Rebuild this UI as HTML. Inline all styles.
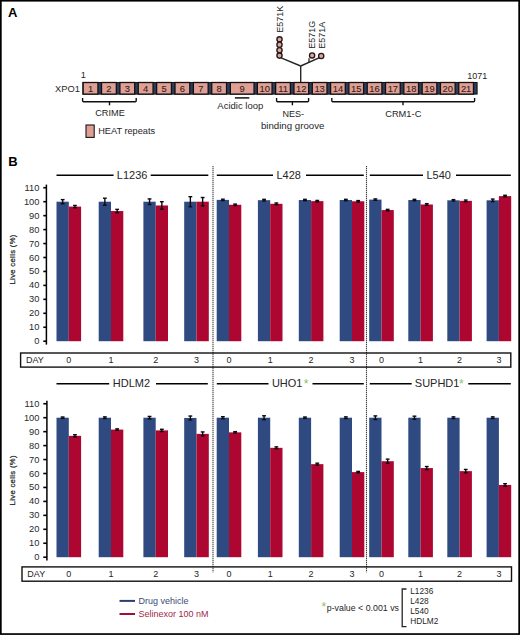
<!DOCTYPE html>
<html><head><meta charset="utf-8"><style>
html,body{margin:0;padding:0;background:#fff;}
body{width:520px;height:635px;overflow:hidden;font-family:"Liberation Sans", sans-serif;}
svg{display:block;font-family:"Liberation Sans", sans-serif;}
</style></head><body>
<svg width="520" height="635" viewBox="0 0 520 635">
<rect x="0" y="0" width="520" height="635" fill="#fff"/>
<text x="8.00" y="17.00" font-size="13" text-anchor="start" fill="#000" font-weight="bold" >A</text>
<text x="80.80" y="78.30" font-size="9.2" text-anchor="start" fill="#262626" font-weight="normal" >1</text>
<text x="467.20" y="78.50" font-size="9" text-anchor="start" fill="#262626" font-weight="normal" >1071</text>
<text x="55.00" y="92.20" font-size="9.3" text-anchor="start" fill="#262626" font-weight="normal" >XPO1</text>
<rect x="82.90" y="82.50" width="394.20" height="11.60" fill="#2e3c5c" stroke="#111" stroke-width="1" />
<rect x="83.15" y="82.50" width="14.80" height="11.60" fill="#dea095" stroke="#141012" stroke-width="1.3" />
<text x="90.55" y="91.80" font-size="9.4" text-anchor="middle" fill="#3a1c18" font-weight="normal" stroke="#3a1c18" stroke-width="0.1">1</text>
<rect x="101.52" y="82.50" width="14.80" height="11.60" fill="#dea095" stroke="#141012" stroke-width="1.3" />
<text x="108.92" y="91.80" font-size="9.4" text-anchor="middle" fill="#3a1c18" font-weight="normal" stroke="#3a1c18" stroke-width="0.1">2</text>
<rect x="119.89" y="82.50" width="14.80" height="11.60" fill="#dea095" stroke="#141012" stroke-width="1.3" />
<text x="127.29" y="91.80" font-size="9.4" text-anchor="middle" fill="#3a1c18" font-weight="normal" stroke="#3a1c18" stroke-width="0.1">3</text>
<rect x="138.26" y="82.50" width="14.80" height="11.60" fill="#dea095" stroke="#141012" stroke-width="1.3" />
<text x="145.66" y="91.80" font-size="9.4" text-anchor="middle" fill="#3a1c18" font-weight="normal" stroke="#3a1c18" stroke-width="0.1">4</text>
<rect x="156.63" y="82.50" width="14.80" height="11.60" fill="#dea095" stroke="#141012" stroke-width="1.3" />
<text x="164.03" y="91.80" font-size="9.4" text-anchor="middle" fill="#3a1c18" font-weight="normal" stroke="#3a1c18" stroke-width="0.1">5</text>
<rect x="175.00" y="82.50" width="14.80" height="11.60" fill="#dea095" stroke="#141012" stroke-width="1.3" />
<text x="182.40" y="91.80" font-size="9.4" text-anchor="middle" fill="#3a1c18" font-weight="normal" stroke="#3a1c18" stroke-width="0.1">6</text>
<rect x="193.37" y="82.50" width="14.80" height="11.60" fill="#dea095" stroke="#141012" stroke-width="1.3" />
<text x="200.77" y="91.80" font-size="9.4" text-anchor="middle" fill="#3a1c18" font-weight="normal" stroke="#3a1c18" stroke-width="0.1">7</text>
<rect x="211.74" y="82.50" width="14.80" height="11.60" fill="#dea095" stroke="#141012" stroke-width="1.3" />
<text x="219.14" y="91.80" font-size="9.4" text-anchor="middle" fill="#3a1c18" font-weight="normal" stroke="#3a1c18" stroke-width="0.1">8</text>
<rect x="230.35" y="82.50" width="23.70" height="11.60" fill="#dea095" stroke="#141012" stroke-width="1.3" />
<text x="242.20" y="91.80" font-size="9.4" text-anchor="middle" fill="#3a1c18" font-weight="normal" stroke="#3a1c18" stroke-width="0.1">9</text>
<rect x="257.35" y="82.50" width="14.70" height="11.60" fill="#dea095" stroke="#141012" stroke-width="1.3" />
<text x="264.70" y="91.80" font-size="9.4" text-anchor="middle" fill="#3a1c18" font-weight="normal" stroke="#3a1c18" stroke-width="0.1">10</text>
<rect x="275.66" y="82.50" width="14.70" height="11.60" fill="#dea095" stroke="#141012" stroke-width="1.3" />
<text x="283.01" y="91.80" font-size="9.4" text-anchor="middle" fill="#3a1c18" font-weight="normal" stroke="#3a1c18" stroke-width="0.1">11</text>
<rect x="293.97" y="82.50" width="14.70" height="11.60" fill="#dea095" stroke="#141012" stroke-width="1.3" />
<text x="301.32" y="91.80" font-size="9.4" text-anchor="middle" fill="#3a1c18" font-weight="normal" stroke="#3a1c18" stroke-width="0.1">12</text>
<rect x="312.28" y="82.50" width="14.70" height="11.60" fill="#dea095" stroke="#141012" stroke-width="1.3" />
<text x="319.63" y="91.80" font-size="9.4" text-anchor="middle" fill="#3a1c18" font-weight="normal" stroke="#3a1c18" stroke-width="0.1">13</text>
<rect x="330.59" y="82.50" width="14.70" height="11.60" fill="#dea095" stroke="#141012" stroke-width="1.3" />
<text x="337.94" y="91.80" font-size="9.4" text-anchor="middle" fill="#3a1c18" font-weight="normal" stroke="#3a1c18" stroke-width="0.1">14</text>
<rect x="348.90" y="82.50" width="14.70" height="11.60" fill="#dea095" stroke="#141012" stroke-width="1.3" />
<text x="356.25" y="91.80" font-size="9.4" text-anchor="middle" fill="#3a1c18" font-weight="normal" stroke="#3a1c18" stroke-width="0.1">15</text>
<rect x="367.21" y="82.50" width="14.70" height="11.60" fill="#dea095" stroke="#141012" stroke-width="1.3" />
<text x="374.56" y="91.80" font-size="9.4" text-anchor="middle" fill="#3a1c18" font-weight="normal" stroke="#3a1c18" stroke-width="0.1">16</text>
<rect x="385.52" y="82.50" width="14.70" height="11.60" fill="#dea095" stroke="#141012" stroke-width="1.3" />
<text x="392.87" y="91.80" font-size="9.4" text-anchor="middle" fill="#3a1c18" font-weight="normal" stroke="#3a1c18" stroke-width="0.1">17</text>
<rect x="403.83" y="82.50" width="14.70" height="11.60" fill="#dea095" stroke="#141012" stroke-width="1.3" />
<text x="411.18" y="91.80" font-size="9.4" text-anchor="middle" fill="#3a1c18" font-weight="normal" stroke="#3a1c18" stroke-width="0.1">18</text>
<rect x="422.14" y="82.50" width="14.70" height="11.60" fill="#dea095" stroke="#141012" stroke-width="1.3" />
<text x="429.49" y="91.80" font-size="9.4" text-anchor="middle" fill="#3a1c18" font-weight="normal" stroke="#3a1c18" stroke-width="0.1">19</text>
<rect x="440.45" y="82.50" width="14.70" height="11.60" fill="#dea095" stroke="#141012" stroke-width="1.3" />
<text x="447.80" y="91.80" font-size="9.4" text-anchor="middle" fill="#3a1c18" font-weight="normal" stroke="#3a1c18" stroke-width="0.1">20</text>
<rect x="458.76" y="82.50" width="14.70" height="11.60" fill="#dea095" stroke="#141012" stroke-width="1.3" />
<text x="466.11" y="91.80" font-size="9.4" text-anchor="middle" fill="#3a1c18" font-weight="normal" stroke="#3a1c18" stroke-width="0.1">21</text>
<line x1="300.70" y1="66.00" x2="300.70" y2="82.00" stroke="#262626" stroke-width="1.4" />
<line x1="300.70" y1="66.00" x2="280.50" y2="57.60" stroke="#262626" stroke-width="1.4" />
<line x1="300.70" y1="66.00" x2="321.20" y2="56.80" stroke="#262626" stroke-width="1.4" />
<line x1="309.00" y1="62.60" x2="309.00" y2="58.30" stroke="#262626" stroke-width="1.3" />
<circle cx="279.5" cy="39.3" r="2.6" fill="#d2aba3" stroke="#2a1616" stroke-width="1.35"/>
<circle cx="279.5" cy="44.75" r="2.6" fill="#d2aba3" stroke="#2a1616" stroke-width="1.35"/>
<circle cx="279.5" cy="50.2" r="2.6" fill="#d2aba3" stroke="#2a1616" stroke-width="1.35"/>
<circle cx="279.5" cy="55.6" r="2.6" fill="#d2aba3" stroke="#2a1616" stroke-width="1.35"/>
<circle cx="312.1" cy="55.4" r="2.6" fill="#d2aba3" stroke="#2a1616" stroke-width="1.35"/>
<circle cx="321.2" cy="56.0" r="2.6" fill="#d2aba3" stroke="#2a1616" stroke-width="1.35"/>
<text transform="translate(282.80,32.70) rotate(-90)" x="0" y="0" font-size="9" fill="#262626">E571K</text>
<text transform="translate(314.50,48.70) rotate(-90)" x="0" y="0" font-size="9" fill="#262626">E571G</text>
<text transform="translate(324.60,48.70) rotate(-90)" x="0" y="0" font-size="9" fill="#262626">E571A</text>
<path d="M82.60,98.0 L82.60,100.8 Q82.60,101.8 83.60,101.8 L135.20,101.8 Q136.20,101.8 136.20,100.8 L136.20,98.0" fill="none" stroke="#111" stroke-width="1.4"/>
<line x1="109.50" y1="101.80" x2="109.50" y2="105.30" stroke="#111" stroke-width="1.4" />
<path d="M276.60,98.0 L276.60,100.8 Q276.60,101.8 277.60,101.8 L307.60,101.8 Q308.60,101.8 308.60,100.8 L308.60,98.0" fill="none" stroke="#111" stroke-width="1.4"/>
<line x1="292.40" y1="101.80" x2="292.40" y2="105.30" stroke="#111" stroke-width="1.4" />
<path d="M331.80,98.0 L331.80,100.8 Q331.80,101.8 332.80,101.8 L473.60,101.8 Q474.60,101.8 474.60,100.8 L474.60,98.0" fill="none" stroke="#111" stroke-width="1.4"/>
<line x1="403.00" y1="101.80" x2="403.00" y2="105.30" stroke="#111" stroke-width="1.4" />
<line x1="234.90" y1="97.90" x2="249.30" y2="97.90" stroke="#111" stroke-width="1.5" />
<text x="95.20" y="115.50" font-size="9.2" text-anchor="start" fill="#262626" font-weight="normal" >CRIME</text>
<text x="217.30" y="109.40" font-size="9.5" text-anchor="start" fill="#262626" font-weight="normal" >Acidic loop</text>
<text x="282.50" y="116.60" font-size="9" text-anchor="start" fill="#262626" font-weight="normal" >NES-</text>
<text x="260.90" y="128.70" font-size="9.7" text-anchor="start" fill="#262626" font-weight="normal" >binding groove</text>
<text x="385.20" y="117.00" font-size="9.3" text-anchor="start" fill="#262626" font-weight="normal" >CRM1-C</text>
<rect x="86.00" y="125.00" width="8.20" height="12.40" fill="#dea095" stroke="#1a1416" stroke-width="1.1" />
<text x="98.20" y="134.40" font-size="9.2" text-anchor="start" fill="#262626" font-weight="normal" >HEAT repeats</text>
<text x="8.30" y="166.30" font-size="13" text-anchor="start" fill="#000" font-weight="bold" >B</text>
<line x1="46.40" y1="184.60" x2="46.40" y2="344.60" stroke="#000" stroke-width="1.5" />
<line x1="43.30" y1="341.20" x2="46.40" y2="341.20" stroke="#000" stroke-width="1.6" />
<text x="39.40" y="344.20" font-size="9.3" text-anchor="end" fill="#2a2a2a" font-weight="normal" >0</text>
<line x1="43.30" y1="327.25" x2="46.40" y2="327.25" stroke="#000" stroke-width="1.6" />
<text x="39.40" y="330.25" font-size="9.3" text-anchor="end" fill="#2a2a2a" font-weight="normal" >10</text>
<line x1="43.30" y1="313.30" x2="46.40" y2="313.30" stroke="#000" stroke-width="1.6" />
<text x="39.40" y="316.30" font-size="9.3" text-anchor="end" fill="#2a2a2a" font-weight="normal" >20</text>
<line x1="43.30" y1="299.35" x2="46.40" y2="299.35" stroke="#000" stroke-width="1.6" />
<text x="39.40" y="302.35" font-size="9.3" text-anchor="end" fill="#2a2a2a" font-weight="normal" >30</text>
<line x1="43.30" y1="285.40" x2="46.40" y2="285.40" stroke="#000" stroke-width="1.6" />
<text x="39.40" y="288.40" font-size="9.3" text-anchor="end" fill="#2a2a2a" font-weight="normal" >40</text>
<line x1="43.30" y1="271.45" x2="46.40" y2="271.45" stroke="#000" stroke-width="1.6" />
<text x="39.40" y="274.45" font-size="9.3" text-anchor="end" fill="#2a2a2a" font-weight="normal" >50</text>
<line x1="43.30" y1="257.50" x2="46.40" y2="257.50" stroke="#000" stroke-width="1.6" />
<text x="39.40" y="260.50" font-size="9.3" text-anchor="end" fill="#2a2a2a" font-weight="normal" >60</text>
<line x1="43.30" y1="243.55" x2="46.40" y2="243.55" stroke="#000" stroke-width="1.6" />
<text x="39.40" y="246.55" font-size="9.3" text-anchor="end" fill="#2a2a2a" font-weight="normal" >70</text>
<line x1="43.30" y1="229.60" x2="46.40" y2="229.60" stroke="#000" stroke-width="1.6" />
<text x="39.40" y="232.60" font-size="9.3" text-anchor="end" fill="#2a2a2a" font-weight="normal" >80</text>
<line x1="43.30" y1="215.65" x2="46.40" y2="215.65" stroke="#000" stroke-width="1.6" />
<text x="39.40" y="218.65" font-size="9.3" text-anchor="end" fill="#2a2a2a" font-weight="normal" >90</text>
<line x1="43.30" y1="201.70" x2="46.40" y2="201.70" stroke="#000" stroke-width="1.6" />
<text x="39.40" y="204.70" font-size="9.3" text-anchor="end" fill="#2a2a2a" font-weight="normal" >100</text>
<line x1="43.30" y1="187.75" x2="46.40" y2="187.75" stroke="#000" stroke-width="1.6" />
<text x="39.40" y="190.75" font-size="9.3" text-anchor="end" fill="#2a2a2a" font-weight="normal" >110</text>
<text transform="translate(15.00,259.40) rotate(-90)" x="0" y="0" font-size="7.7" letter-spacing="0.32" text-anchor="middle" fill="#262626" stroke="#262626" stroke-width="0.25">Live cells (%)</text>
<rect x="56.50" y="201.70" width="12.30" height="139.50" fill="#2f4a80" />
<rect x="68.80" y="206.58" width="12.30" height="134.62" fill="#ad0630" />
<line x1="62.65" y1="199.61" x2="62.65" y2="203.79" stroke="#0a0a14" stroke-width="1.4" />
<line x1="60.75" y1="199.61" x2="64.55" y2="199.61" stroke="#0a0a14" stroke-width="1.4" />
<line x1="60.75" y1="203.79" x2="64.55" y2="203.79" stroke="#0a0a14" stroke-width="1.4" />
<line x1="74.95" y1="205.47" x2="74.95" y2="207.70" stroke="#0a0a14" stroke-width="1.4" />
<line x1="73.05" y1="205.47" x2="76.85" y2="205.47" stroke="#0a0a14" stroke-width="1.4" />
<line x1="73.05" y1="207.70" x2="76.85" y2="207.70" stroke="#0a0a14" stroke-width="1.4" />
<rect x="98.70" y="201.70" width="12.30" height="139.50" fill="#2f4a80" />
<rect x="111.00" y="211.05" width="12.30" height="130.15" fill="#ad0630" />
<line x1="104.85" y1="198.21" x2="104.85" y2="205.19" stroke="#0a0a14" stroke-width="1.4" />
<line x1="102.95" y1="198.21" x2="106.75" y2="198.21" stroke="#0a0a14" stroke-width="1.4" />
<line x1="102.95" y1="205.19" x2="106.75" y2="205.19" stroke="#0a0a14" stroke-width="1.4" />
<line x1="117.15" y1="209.37" x2="117.15" y2="212.72" stroke="#0a0a14" stroke-width="1.4" />
<line x1="115.25" y1="209.37" x2="119.05" y2="209.37" stroke="#0a0a14" stroke-width="1.4" />
<line x1="115.25" y1="212.72" x2="119.05" y2="212.72" stroke="#0a0a14" stroke-width="1.4" />
<rect x="143.40" y="201.70" width="12.30" height="139.50" fill="#2f4a80" />
<rect x="155.70" y="205.47" width="12.30" height="135.73" fill="#ad0630" />
<line x1="149.55" y1="198.91" x2="149.55" y2="204.49" stroke="#0a0a14" stroke-width="1.4" />
<line x1="147.65" y1="198.91" x2="151.45" y2="198.91" stroke="#0a0a14" stroke-width="1.4" />
<line x1="147.65" y1="204.49" x2="151.45" y2="204.49" stroke="#0a0a14" stroke-width="1.4" />
<line x1="161.85" y1="201.70" x2="161.85" y2="209.23" stroke="#0a0a14" stroke-width="1.4" />
<line x1="159.95" y1="201.70" x2="163.75" y2="201.70" stroke="#0a0a14" stroke-width="1.4" />
<line x1="159.95" y1="209.23" x2="163.75" y2="209.23" stroke="#0a0a14" stroke-width="1.4" />
<rect x="184.20" y="201.70" width="12.30" height="139.50" fill="#2f4a80" />
<rect x="196.50" y="201.70" width="12.30" height="139.50" fill="#ad0630" />
<line x1="190.35" y1="196.68" x2="190.35" y2="206.72" stroke="#0a0a14" stroke-width="1.4" />
<line x1="188.45" y1="196.68" x2="192.25" y2="196.68" stroke="#0a0a14" stroke-width="1.4" />
<line x1="188.45" y1="206.72" x2="192.25" y2="206.72" stroke="#0a0a14" stroke-width="1.4" />
<line x1="202.65" y1="197.51" x2="202.65" y2="205.88" stroke="#0a0a14" stroke-width="1.4" />
<line x1="200.75" y1="197.51" x2="204.55" y2="197.51" stroke="#0a0a14" stroke-width="1.4" />
<line x1="200.75" y1="205.88" x2="204.55" y2="205.88" stroke="#0a0a14" stroke-width="1.4" />
<rect x="216.70" y="199.89" width="12.30" height="141.31" fill="#2f4a80" />
<rect x="229.00" y="204.77" width="12.30" height="136.43" fill="#ad0630" />
<line x1="222.85" y1="199.19" x2="222.85" y2="200.58" stroke="#0a0a14" stroke-width="1.4" />
<line x1="220.95" y1="199.19" x2="224.75" y2="199.19" stroke="#0a0a14" stroke-width="1.4" />
<line x1="220.95" y1="200.58" x2="224.75" y2="200.58" stroke="#0a0a14" stroke-width="1.4" />
<line x1="235.15" y1="204.07" x2="235.15" y2="205.47" stroke="#0a0a14" stroke-width="1.4" />
<line x1="233.25" y1="204.07" x2="237.05" y2="204.07" stroke="#0a0a14" stroke-width="1.4" />
<line x1="233.25" y1="205.47" x2="237.05" y2="205.47" stroke="#0a0a14" stroke-width="1.4" />
<rect x="257.90" y="200.17" width="12.30" height="141.03" fill="#2f4a80" />
<rect x="270.20" y="203.79" width="12.30" height="137.41" fill="#ad0630" />
<line x1="264.05" y1="199.33" x2="264.05" y2="201.00" stroke="#0a0a14" stroke-width="1.4" />
<line x1="262.15" y1="199.33" x2="265.95" y2="199.33" stroke="#0a0a14" stroke-width="1.4" />
<line x1="262.15" y1="201.00" x2="265.95" y2="201.00" stroke="#0a0a14" stroke-width="1.4" />
<line x1="276.35" y1="202.96" x2="276.35" y2="204.63" stroke="#0a0a14" stroke-width="1.4" />
<line x1="274.45" y1="202.96" x2="278.25" y2="202.96" stroke="#0a0a14" stroke-width="1.4" />
<line x1="274.45" y1="204.63" x2="278.25" y2="204.63" stroke="#0a0a14" stroke-width="1.4" />
<rect x="298.80" y="200.03" width="12.30" height="141.17" fill="#2f4a80" />
<rect x="311.10" y="201.14" width="12.30" height="140.06" fill="#ad0630" />
<line x1="304.95" y1="199.33" x2="304.95" y2="200.72" stroke="#0a0a14" stroke-width="1.4" />
<line x1="303.05" y1="199.33" x2="306.85" y2="199.33" stroke="#0a0a14" stroke-width="1.4" />
<line x1="303.05" y1="200.72" x2="306.85" y2="200.72" stroke="#0a0a14" stroke-width="1.4" />
<line x1="317.25" y1="200.44" x2="317.25" y2="201.84" stroke="#0a0a14" stroke-width="1.4" />
<line x1="315.35" y1="200.44" x2="319.15" y2="200.44" stroke="#0a0a14" stroke-width="1.4" />
<line x1="315.35" y1="201.84" x2="319.15" y2="201.84" stroke="#0a0a14" stroke-width="1.4" />
<rect x="339.70" y="200.03" width="12.30" height="141.17" fill="#2f4a80" />
<rect x="352.00" y="201.28" width="12.30" height="139.92" fill="#ad0630" />
<line x1="345.85" y1="199.33" x2="345.85" y2="200.72" stroke="#0a0a14" stroke-width="1.4" />
<line x1="343.95" y1="199.33" x2="347.75" y2="199.33" stroke="#0a0a14" stroke-width="1.4" />
<line x1="343.95" y1="200.72" x2="347.75" y2="200.72" stroke="#0a0a14" stroke-width="1.4" />
<line x1="358.15" y1="200.58" x2="358.15" y2="201.98" stroke="#0a0a14" stroke-width="1.4" />
<line x1="356.25" y1="200.58" x2="360.05" y2="200.58" stroke="#0a0a14" stroke-width="1.4" />
<line x1="356.25" y1="201.98" x2="360.05" y2="201.98" stroke="#0a0a14" stroke-width="1.4" />
<rect x="369.20" y="199.61" width="12.30" height="141.59" fill="#2f4a80" />
<rect x="381.50" y="210.07" width="12.30" height="131.13" fill="#ad0630" />
<line x1="375.35" y1="198.91" x2="375.35" y2="200.30" stroke="#0a0a14" stroke-width="1.4" />
<line x1="373.45" y1="198.91" x2="377.25" y2="198.91" stroke="#0a0a14" stroke-width="1.4" />
<line x1="373.45" y1="200.30" x2="377.25" y2="200.30" stroke="#0a0a14" stroke-width="1.4" />
<line x1="387.65" y1="209.37" x2="387.65" y2="210.77" stroke="#0a0a14" stroke-width="1.4" />
<line x1="385.75" y1="209.37" x2="389.55" y2="209.37" stroke="#0a0a14" stroke-width="1.4" />
<line x1="385.75" y1="210.77" x2="389.55" y2="210.77" stroke="#0a0a14" stroke-width="1.4" />
<rect x="408.30" y="200.03" width="12.30" height="141.17" fill="#2f4a80" />
<rect x="420.60" y="204.49" width="12.30" height="136.71" fill="#ad0630" />
<line x1="414.45" y1="199.33" x2="414.45" y2="200.72" stroke="#0a0a14" stroke-width="1.4" />
<line x1="412.55" y1="199.33" x2="416.35" y2="199.33" stroke="#0a0a14" stroke-width="1.4" />
<line x1="412.55" y1="200.72" x2="416.35" y2="200.72" stroke="#0a0a14" stroke-width="1.4" />
<line x1="426.75" y1="203.65" x2="426.75" y2="205.33" stroke="#0a0a14" stroke-width="1.4" />
<line x1="424.85" y1="203.65" x2="428.65" y2="203.65" stroke="#0a0a14" stroke-width="1.4" />
<line x1="424.85" y1="205.33" x2="428.65" y2="205.33" stroke="#0a0a14" stroke-width="1.4" />
<rect x="447.30" y="200.30" width="12.30" height="140.90" fill="#2f4a80" />
<rect x="459.60" y="200.86" width="12.30" height="140.34" fill="#ad0630" />
<line x1="453.45" y1="199.61" x2="453.45" y2="201.00" stroke="#0a0a14" stroke-width="1.4" />
<line x1="451.55" y1="199.61" x2="455.35" y2="199.61" stroke="#0a0a14" stroke-width="1.4" />
<line x1="451.55" y1="201.00" x2="455.35" y2="201.00" stroke="#0a0a14" stroke-width="1.4" />
<line x1="465.75" y1="200.03" x2="465.75" y2="201.70" stroke="#0a0a14" stroke-width="1.4" />
<line x1="463.85" y1="200.03" x2="467.65" y2="200.03" stroke="#0a0a14" stroke-width="1.4" />
<line x1="463.85" y1="201.70" x2="467.65" y2="201.70" stroke="#0a0a14" stroke-width="1.4" />
<rect x="486.60" y="200.30" width="12.30" height="140.90" fill="#2f4a80" />
<rect x="498.90" y="196.12" width="12.30" height="145.08" fill="#ad0630" />
<line x1="492.75" y1="199.05" x2="492.75" y2="201.56" stroke="#0a0a14" stroke-width="1.4" />
<line x1="490.85" y1="199.05" x2="494.65" y2="199.05" stroke="#0a0a14" stroke-width="1.4" />
<line x1="490.85" y1="201.56" x2="494.65" y2="201.56" stroke="#0a0a14" stroke-width="1.4" />
<line x1="505.05" y1="195.28" x2="505.05" y2="196.96" stroke="#0a0a14" stroke-width="1.4" />
<line x1="503.15" y1="195.28" x2="506.95" y2="195.28" stroke="#0a0a14" stroke-width="1.4" />
<line x1="503.15" y1="196.96" x2="506.95" y2="196.96" stroke="#0a0a14" stroke-width="1.4" />
<line x1="56.50" y1="175.25" x2="113.60" y2="175.25" stroke="#000" stroke-width="1.5" />
<line x1="150.70" y1="175.25" x2="208.30" y2="175.25" stroke="#000" stroke-width="1.5" />
<text x="116.80" y="178.75" font-size="11" text-anchor="start" fill="#262626" font-weight="normal" >L1236</text>
<line x1="216.80" y1="175.25" x2="273.00" y2="175.25" stroke="#000" stroke-width="1.5" />
<line x1="306.00" y1="175.25" x2="363.80" y2="175.25" stroke="#000" stroke-width="1.5" />
<text x="276.40" y="178.75" font-size="11" text-anchor="start" fill="#262626" font-weight="normal" >L428</text>
<line x1="369.80" y1="175.25" x2="423.00" y2="175.25" stroke="#000" stroke-width="1.5" />
<line x1="456.00" y1="175.25" x2="510.80" y2="175.25" stroke="#000" stroke-width="1.5" />
<text x="426.40" y="178.75" font-size="11" text-anchor="start" fill="#262626" font-weight="normal" >L540</text>
<rect x="20.60" y="353.00" width="490.20" height="14.10" fill="none" stroke="#111" stroke-width="1.4" />
<text x="25.90" y="362.70" font-size="9" text-anchor="start" fill="#262626" font-weight="normal" >DAY</text>
<text x="68.80" y="362.70" font-size="9" text-anchor="middle" fill="#262626" font-weight="normal" >0</text>
<text x="111.00" y="362.70" font-size="9" text-anchor="middle" fill="#262626" font-weight="normal" >1</text>
<text x="155.70" y="362.70" font-size="9" text-anchor="middle" fill="#262626" font-weight="normal" >2</text>
<text x="196.50" y="362.70" font-size="9" text-anchor="middle" fill="#262626" font-weight="normal" >3</text>
<text x="229.00" y="362.70" font-size="9" text-anchor="middle" fill="#262626" font-weight="normal" >0</text>
<text x="270.20" y="362.70" font-size="9" text-anchor="middle" fill="#262626" font-weight="normal" >1</text>
<text x="311.10" y="362.70" font-size="9" text-anchor="middle" fill="#262626" font-weight="normal" >2</text>
<text x="352.00" y="362.70" font-size="9" text-anchor="middle" fill="#262626" font-weight="normal" >3</text>
<text x="381.50" y="362.70" font-size="9" text-anchor="middle" fill="#262626" font-weight="normal" >0</text>
<text x="420.60" y="362.70" font-size="9" text-anchor="middle" fill="#262626" font-weight="normal" >1</text>
<text x="459.60" y="362.70" font-size="9" text-anchor="middle" fill="#262626" font-weight="normal" >2</text>
<text x="498.90" y="362.70" font-size="9" text-anchor="middle" fill="#262626" font-weight="normal" >3</text>
<line x1="46.90" y1="400.80" x2="46.90" y2="560.50" stroke="#000" stroke-width="1.5" />
<line x1="43.30" y1="557.20" x2="46.90" y2="557.20" stroke="#000" stroke-width="1.6" />
<text x="39.40" y="560.20" font-size="9.3" text-anchor="end" fill="#2a2a2a" font-weight="normal" >0</text>
<line x1="43.30" y1="543.25" x2="46.90" y2="543.25" stroke="#000" stroke-width="1.6" />
<text x="39.40" y="546.25" font-size="9.3" text-anchor="end" fill="#2a2a2a" font-weight="normal" >10</text>
<line x1="43.30" y1="529.30" x2="46.90" y2="529.30" stroke="#000" stroke-width="1.6" />
<text x="39.40" y="532.30" font-size="9.3" text-anchor="end" fill="#2a2a2a" font-weight="normal" >20</text>
<line x1="43.30" y1="515.35" x2="46.90" y2="515.35" stroke="#000" stroke-width="1.6" />
<text x="39.40" y="518.35" font-size="9.3" text-anchor="end" fill="#2a2a2a" font-weight="normal" >30</text>
<line x1="43.30" y1="501.40" x2="46.90" y2="501.40" stroke="#000" stroke-width="1.6" />
<text x="39.40" y="504.40" font-size="9.3" text-anchor="end" fill="#2a2a2a" font-weight="normal" >40</text>
<line x1="43.30" y1="487.45" x2="46.90" y2="487.45" stroke="#000" stroke-width="1.6" />
<text x="39.40" y="490.45" font-size="9.3" text-anchor="end" fill="#2a2a2a" font-weight="normal" >50</text>
<line x1="43.30" y1="473.50" x2="46.90" y2="473.50" stroke="#000" stroke-width="1.6" />
<text x="39.40" y="476.50" font-size="9.3" text-anchor="end" fill="#2a2a2a" font-weight="normal" >60</text>
<line x1="43.30" y1="459.55" x2="46.90" y2="459.55" stroke="#000" stroke-width="1.6" />
<text x="39.40" y="462.55" font-size="9.3" text-anchor="end" fill="#2a2a2a" font-weight="normal" >70</text>
<line x1="43.30" y1="445.60" x2="46.90" y2="445.60" stroke="#000" stroke-width="1.6" />
<text x="39.40" y="448.60" font-size="9.3" text-anchor="end" fill="#2a2a2a" font-weight="normal" >80</text>
<line x1="43.30" y1="431.65" x2="46.90" y2="431.65" stroke="#000" stroke-width="1.6" />
<text x="39.40" y="434.65" font-size="9.3" text-anchor="end" fill="#2a2a2a" font-weight="normal" >90</text>
<line x1="43.30" y1="417.70" x2="46.90" y2="417.70" stroke="#000" stroke-width="1.6" />
<text x="39.40" y="420.70" font-size="9.3" text-anchor="end" fill="#2a2a2a" font-weight="normal" >100</text>
<line x1="43.30" y1="403.75" x2="46.90" y2="403.75" stroke="#000" stroke-width="1.6" />
<text x="39.40" y="406.75" font-size="9.3" text-anchor="end" fill="#2a2a2a" font-weight="normal" >110</text>
<text transform="translate(15.00,480.30) rotate(-90)" x="0" y="0" font-size="7.7" letter-spacing="0.32" text-anchor="middle" fill="#262626" stroke="#262626" stroke-width="0.25">Live cells (%)</text>
<rect x="56.50" y="417.70" width="12.30" height="139.50" fill="#2f4a80" />
<rect x="68.80" y="435.84" width="12.30" height="121.37" fill="#ad0630" />
<line x1="62.65" y1="417.00" x2="62.65" y2="418.40" stroke="#0a0a14" stroke-width="1.4" />
<line x1="60.75" y1="417.00" x2="64.55" y2="417.00" stroke="#0a0a14" stroke-width="1.4" />
<line x1="60.75" y1="418.40" x2="64.55" y2="418.40" stroke="#0a0a14" stroke-width="1.4" />
<line x1="74.95" y1="434.72" x2="74.95" y2="436.95" stroke="#0a0a14" stroke-width="1.4" />
<line x1="73.05" y1="434.72" x2="76.85" y2="434.72" stroke="#0a0a14" stroke-width="1.4" />
<line x1="73.05" y1="436.95" x2="76.85" y2="436.95" stroke="#0a0a14" stroke-width="1.4" />
<rect x="98.70" y="417.70" width="12.30" height="139.50" fill="#2f4a80" />
<rect x="111.00" y="429.56" width="12.30" height="127.64" fill="#ad0630" />
<line x1="104.85" y1="416.86" x2="104.85" y2="418.54" stroke="#0a0a14" stroke-width="1.4" />
<line x1="102.95" y1="416.86" x2="106.75" y2="416.86" stroke="#0a0a14" stroke-width="1.4" />
<line x1="102.95" y1="418.54" x2="106.75" y2="418.54" stroke="#0a0a14" stroke-width="1.4" />
<line x1="117.15" y1="428.86" x2="117.15" y2="430.26" stroke="#0a0a14" stroke-width="1.4" />
<line x1="115.25" y1="428.86" x2="119.05" y2="428.86" stroke="#0a0a14" stroke-width="1.4" />
<line x1="115.25" y1="430.26" x2="119.05" y2="430.26" stroke="#0a0a14" stroke-width="1.4" />
<rect x="143.40" y="417.70" width="12.30" height="139.50" fill="#2f4a80" />
<rect x="155.70" y="430.39" width="12.30" height="126.81" fill="#ad0630" />
<line x1="149.55" y1="416.44" x2="149.55" y2="418.96" stroke="#0a0a14" stroke-width="1.4" />
<line x1="147.65" y1="416.44" x2="151.45" y2="416.44" stroke="#0a0a14" stroke-width="1.4" />
<line x1="147.65" y1="418.96" x2="151.45" y2="418.96" stroke="#0a0a14" stroke-width="1.4" />
<line x1="161.85" y1="429.28" x2="161.85" y2="431.51" stroke="#0a0a14" stroke-width="1.4" />
<line x1="159.95" y1="429.28" x2="163.75" y2="429.28" stroke="#0a0a14" stroke-width="1.4" />
<line x1="159.95" y1="431.51" x2="163.75" y2="431.51" stroke="#0a0a14" stroke-width="1.4" />
<rect x="184.20" y="417.98" width="12.30" height="139.22" fill="#2f4a80" />
<rect x="196.50" y="433.88" width="12.30" height="123.32" fill="#ad0630" />
<line x1="190.35" y1="416.03" x2="190.35" y2="419.93" stroke="#0a0a14" stroke-width="1.4" />
<line x1="188.45" y1="416.03" x2="192.25" y2="416.03" stroke="#0a0a14" stroke-width="1.4" />
<line x1="188.45" y1="419.93" x2="192.25" y2="419.93" stroke="#0a0a14" stroke-width="1.4" />
<line x1="202.65" y1="431.93" x2="202.65" y2="435.84" stroke="#0a0a14" stroke-width="1.4" />
<line x1="200.75" y1="431.93" x2="204.55" y2="431.93" stroke="#0a0a14" stroke-width="1.4" />
<line x1="200.75" y1="435.84" x2="204.55" y2="435.84" stroke="#0a0a14" stroke-width="1.4" />
<rect x="216.70" y="417.70" width="12.30" height="139.50" fill="#2f4a80" />
<rect x="229.00" y="432.35" width="12.30" height="124.85" fill="#ad0630" />
<line x1="222.85" y1="416.72" x2="222.85" y2="418.68" stroke="#0a0a14" stroke-width="1.4" />
<line x1="220.95" y1="416.72" x2="224.75" y2="416.72" stroke="#0a0a14" stroke-width="1.4" />
<line x1="220.95" y1="418.68" x2="224.75" y2="418.68" stroke="#0a0a14" stroke-width="1.4" />
<line x1="235.15" y1="431.65" x2="235.15" y2="433.05" stroke="#0a0a14" stroke-width="1.4" />
<line x1="233.25" y1="431.65" x2="237.05" y2="431.65" stroke="#0a0a14" stroke-width="1.4" />
<line x1="233.25" y1="433.05" x2="237.05" y2="433.05" stroke="#0a0a14" stroke-width="1.4" />
<rect x="257.90" y="417.70" width="12.30" height="139.50" fill="#2f4a80" />
<rect x="270.20" y="447.83" width="12.30" height="109.37" fill="#ad0630" />
<line x1="264.05" y1="415.75" x2="264.05" y2="419.65" stroke="#0a0a14" stroke-width="1.4" />
<line x1="262.15" y1="415.75" x2="265.95" y2="415.75" stroke="#0a0a14" stroke-width="1.4" />
<line x1="262.15" y1="419.65" x2="265.95" y2="419.65" stroke="#0a0a14" stroke-width="1.4" />
<line x1="276.35" y1="446.86" x2="276.35" y2="448.81" stroke="#0a0a14" stroke-width="1.4" />
<line x1="274.45" y1="446.86" x2="278.25" y2="446.86" stroke="#0a0a14" stroke-width="1.4" />
<line x1="274.45" y1="448.81" x2="278.25" y2="448.81" stroke="#0a0a14" stroke-width="1.4" />
<rect x="298.80" y="417.70" width="12.30" height="139.50" fill="#2f4a80" />
<rect x="311.10" y="464.15" width="12.30" height="93.05" fill="#ad0630" />
<line x1="304.95" y1="417.00" x2="304.95" y2="418.40" stroke="#0a0a14" stroke-width="1.4" />
<line x1="303.05" y1="417.00" x2="306.85" y2="417.00" stroke="#0a0a14" stroke-width="1.4" />
<line x1="303.05" y1="418.40" x2="306.85" y2="418.40" stroke="#0a0a14" stroke-width="1.4" />
<line x1="317.25" y1="463.18" x2="317.25" y2="465.13" stroke="#0a0a14" stroke-width="1.4" />
<line x1="315.35" y1="463.18" x2="319.15" y2="463.18" stroke="#0a0a14" stroke-width="1.4" />
<line x1="315.35" y1="465.13" x2="319.15" y2="465.13" stroke="#0a0a14" stroke-width="1.4" />
<rect x="339.70" y="417.70" width="12.30" height="139.50" fill="#2f4a80" />
<rect x="352.00" y="472.11" width="12.30" height="85.10" fill="#ad0630" />
<line x1="345.85" y1="416.86" x2="345.85" y2="418.54" stroke="#0a0a14" stroke-width="1.4" />
<line x1="343.95" y1="416.86" x2="347.75" y2="416.86" stroke="#0a0a14" stroke-width="1.4" />
<line x1="343.95" y1="418.54" x2="347.75" y2="418.54" stroke="#0a0a14" stroke-width="1.4" />
<line x1="358.15" y1="471.41" x2="358.15" y2="472.80" stroke="#0a0a14" stroke-width="1.4" />
<line x1="356.25" y1="471.41" x2="360.05" y2="471.41" stroke="#0a0a14" stroke-width="1.4" />
<line x1="356.25" y1="472.80" x2="360.05" y2="472.80" stroke="#0a0a14" stroke-width="1.4" />
<rect x="369.20" y="417.70" width="12.30" height="139.50" fill="#2f4a80" />
<rect x="381.50" y="461.22" width="12.30" height="95.98" fill="#ad0630" />
<line x1="375.35" y1="415.89" x2="375.35" y2="419.51" stroke="#0a0a14" stroke-width="1.4" />
<line x1="373.45" y1="415.89" x2="377.25" y2="415.89" stroke="#0a0a14" stroke-width="1.4" />
<line x1="373.45" y1="419.51" x2="377.25" y2="419.51" stroke="#0a0a14" stroke-width="1.4" />
<line x1="387.65" y1="459.13" x2="387.65" y2="463.32" stroke="#0a0a14" stroke-width="1.4" />
<line x1="385.75" y1="459.13" x2="389.55" y2="459.13" stroke="#0a0a14" stroke-width="1.4" />
<line x1="385.75" y1="463.32" x2="389.55" y2="463.32" stroke="#0a0a14" stroke-width="1.4" />
<rect x="408.30" y="417.70" width="12.30" height="139.50" fill="#2f4a80" />
<rect x="420.60" y="468.06" width="12.30" height="89.14" fill="#ad0630" />
<line x1="414.45" y1="416.17" x2="414.45" y2="419.23" stroke="#0a0a14" stroke-width="1.4" />
<line x1="412.55" y1="416.17" x2="416.35" y2="416.17" stroke="#0a0a14" stroke-width="1.4" />
<line x1="412.55" y1="419.23" x2="416.35" y2="419.23" stroke="#0a0a14" stroke-width="1.4" />
<line x1="426.75" y1="466.53" x2="426.75" y2="469.59" stroke="#0a0a14" stroke-width="1.4" />
<line x1="424.85" y1="466.53" x2="428.65" y2="466.53" stroke="#0a0a14" stroke-width="1.4" />
<line x1="424.85" y1="469.59" x2="428.65" y2="469.59" stroke="#0a0a14" stroke-width="1.4" />
<rect x="447.30" y="417.70" width="12.30" height="139.50" fill="#2f4a80" />
<rect x="459.60" y="471.13" width="12.30" height="86.07" fill="#ad0630" />
<line x1="453.45" y1="416.86" x2="453.45" y2="418.54" stroke="#0a0a14" stroke-width="1.4" />
<line x1="451.55" y1="416.86" x2="455.35" y2="416.86" stroke="#0a0a14" stroke-width="1.4" />
<line x1="451.55" y1="418.54" x2="455.35" y2="418.54" stroke="#0a0a14" stroke-width="1.4" />
<line x1="465.75" y1="469.45" x2="465.75" y2="472.80" stroke="#0a0a14" stroke-width="1.4" />
<line x1="463.85" y1="469.45" x2="467.65" y2="469.45" stroke="#0a0a14" stroke-width="1.4" />
<line x1="463.85" y1="472.80" x2="467.65" y2="472.80" stroke="#0a0a14" stroke-width="1.4" />
<rect x="486.60" y="417.70" width="12.30" height="139.50" fill="#2f4a80" />
<rect x="498.90" y="484.94" width="12.30" height="72.26" fill="#ad0630" />
<line x1="492.75" y1="416.86" x2="492.75" y2="418.54" stroke="#0a0a14" stroke-width="1.4" />
<line x1="490.85" y1="416.86" x2="494.65" y2="416.86" stroke="#0a0a14" stroke-width="1.4" />
<line x1="490.85" y1="418.54" x2="494.65" y2="418.54" stroke="#0a0a14" stroke-width="1.4" />
<line x1="505.05" y1="483.68" x2="505.05" y2="486.19" stroke="#0a0a14" stroke-width="1.4" />
<line x1="503.15" y1="483.68" x2="506.95" y2="483.68" stroke="#0a0a14" stroke-width="1.4" />
<line x1="503.15" y1="486.19" x2="506.95" y2="486.19" stroke="#0a0a14" stroke-width="1.4" />
<line x1="56.50" y1="383.65" x2="109.20" y2="383.65" stroke="#000" stroke-width="1.5" />
<line x1="156.00" y1="383.65" x2="207.80" y2="383.65" stroke="#000" stroke-width="1.5" />
<text x="112.80" y="387.15" font-size="11" text-anchor="start" fill="#262626" font-weight="normal" >HDLM2</text>
<line x1="216.80" y1="383.65" x2="268.50" y2="383.65" stroke="#000" stroke-width="1.5" />
<line x1="312.50" y1="383.65" x2="363.80" y2="383.65" stroke="#000" stroke-width="1.5" />
<text x="271.90" y="387.15" font-size="11" text-anchor="start" fill="#262626" font-weight="normal" >UHO1</text>
<text x="303.70" y="388.25" font-size="12" text-anchor="start" fill="#8cc060" font-weight="normal" >*</text>
<line x1="369.80" y1="383.65" x2="411.70" y2="383.65" stroke="#000" stroke-width="1.5" />
<line x1="468.30" y1="383.65" x2="510.80" y2="383.65" stroke="#000" stroke-width="1.5" />
<text x="414.80" y="387.15" font-size="11" text-anchor="start" fill="#262626" font-weight="normal" >SUPHD1</text>
<text x="459.10" y="388.25" font-size="12" text-anchor="start" fill="#8cc060" font-weight="normal" >*</text>
<rect x="22.00" y="566.90" width="489.50" height="14.30" fill="none" stroke="#111" stroke-width="1.4" />
<text x="27.30" y="576.80" font-size="9" text-anchor="start" fill="#262626" font-weight="normal" >DAY</text>
<text x="68.80" y="576.80" font-size="9" text-anchor="middle" fill="#262626" font-weight="normal" >0</text>
<text x="111.00" y="576.80" font-size="9" text-anchor="middle" fill="#262626" font-weight="normal" >1</text>
<text x="155.70" y="576.80" font-size="9" text-anchor="middle" fill="#262626" font-weight="normal" >2</text>
<text x="196.50" y="576.80" font-size="9" text-anchor="middle" fill="#262626" font-weight="normal" >3</text>
<text x="229.00" y="576.80" font-size="9" text-anchor="middle" fill="#262626" font-weight="normal" >0</text>
<text x="270.20" y="576.80" font-size="9" text-anchor="middle" fill="#262626" font-weight="normal" >1</text>
<text x="311.10" y="576.80" font-size="9" text-anchor="middle" fill="#262626" font-weight="normal" >2</text>
<text x="352.00" y="576.80" font-size="9" text-anchor="middle" fill="#262626" font-weight="normal" >3</text>
<text x="381.50" y="576.80" font-size="9" text-anchor="middle" fill="#262626" font-weight="normal" >0</text>
<text x="420.60" y="576.80" font-size="9" text-anchor="middle" fill="#262626" font-weight="normal" >1</text>
<text x="459.60" y="576.80" font-size="9" text-anchor="middle" fill="#262626" font-weight="normal" >2</text>
<text x="498.90" y="576.80" font-size="9" text-anchor="middle" fill="#262626" font-weight="normal" >3</text>
<line x1="213.00" y1="166.20" x2="213.00" y2="572.60" stroke="#000" stroke-width="1.1" stroke-dasharray="1 1"/>
<line x1="366.50" y1="166.20" x2="366.50" y2="572.60" stroke="#000" stroke-width="1.1" stroke-dasharray="1 1"/>
<line x1="119.50" y1="600.90" x2="135.00" y2="600.90" stroke="#2c3e70" stroke-width="2.0" />
<text x="138.50" y="603.60" font-size="9" text-anchor="start" fill="#3d4a78" font-weight="normal" >Drug vehicle</text>
<line x1="119.50" y1="614.00" x2="135.00" y2="614.00" stroke="#a01038" stroke-width="2.0" />
<text x="138.50" y="617.10" font-size="9" text-anchor="start" fill="#a0284a" font-weight="normal" >Selinexor 100 nM</text>
<text x="321.40" y="611.10" font-size="12" text-anchor="start" fill="#8cc060" font-weight="normal" >*</text>
<text x="326.80" y="610.60" font-size="8.8" text-anchor="start" fill="#262626" font-weight="normal" >p-value &lt; 0.001 vs</text>
<path d="M406.5,589 L402.2,589 L402.2,626.7 L406.5,626.7" fill="none" stroke="#262626" stroke-width="1.3"/>
<text x="410.20" y="593.80" font-size="8.3" text-anchor="start" fill="#262626" font-weight="normal" >L1236</text>
<text x="410.20" y="603.80" font-size="8.3" text-anchor="start" fill="#262626" font-weight="normal" >L428</text>
<text x="410.20" y="613.80" font-size="8.3" text-anchor="start" fill="#262626" font-weight="normal" >L540</text>
<text x="410.20" y="623.80" font-size="8.3" text-anchor="start" fill="#262626" font-weight="normal" >HDLM2</text>
<rect x="0.85" y="0.75" width="518.3" height="633.3" fill="none" stroke="#000" stroke-width="1.7"/>
</svg>
</body></html>
